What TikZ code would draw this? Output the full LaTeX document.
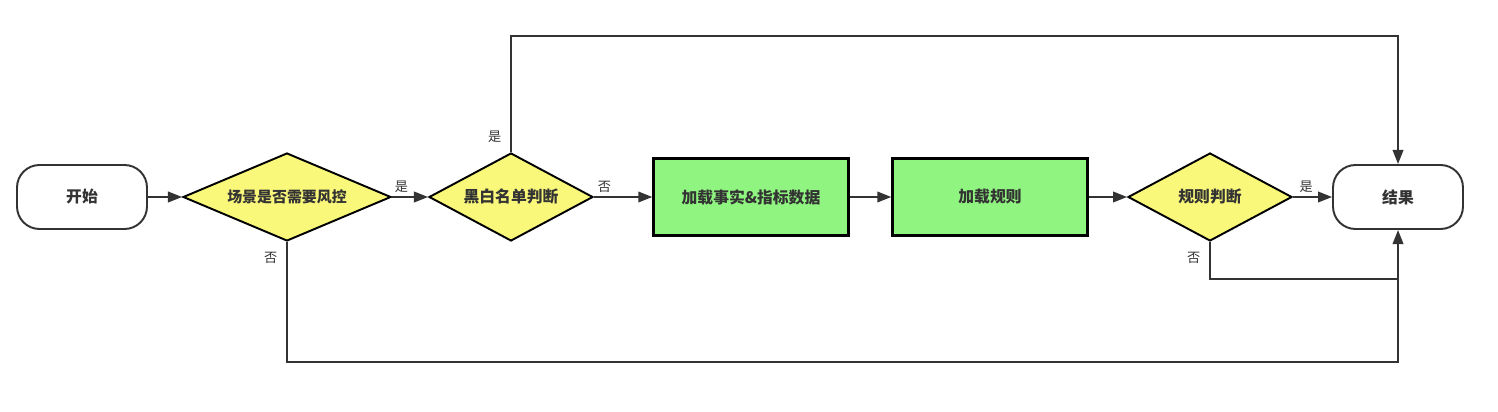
\documentclass[tikz,border=0pt]{standalone}
\usepackage{fontspec}
\setmainfont{Noto Sans CJK SC}
\usetikzlibrary{shapes.geometric,arrows.meta,positioning}
\definecolor{linegray}{HTML}{333333}
\definecolor{decyellow}{RGB}{250,248,122}
\definecolor{stepgreen}{RGB}{144,245,128}

\tikzset{
	terminal/.style={rectangle,rounded corners=0.45cm,draw=linegray,line width=1.1pt,fill=white,
		minimum width=2.6cm,minimum height=1.28cm,font=\fontsize{9}{11}\selectfont\bfseries,text=linegray},
	decision/.style={diamond,aspect=1.86,draw=black,line width=1.1pt,fill=decyellow,inner sep=0pt,
		minimum width=3.28cm,minimum height=1.76cm,font=\fontsize{9}{11}\selectfont\bfseries,text=linegray},
	process/.style={rectangle,draw=black,line width=1.3pt,fill=stepgreen,
		minimum width=3.9cm,minimum height=1.54cm,font=\fontsize{9}{11}\selectfont\bfseries,text=linegray},
	arr/.style={draw=linegray,line width=1.1pt,-{Triangle[length=8pt,width=6pt]}},
	conn/.style={draw=linegray,line width=1.1pt},
	lbl/.style={font=\fontsize{7.5}{9}\selectfont,text=linegray,inner sep=2pt}
}

\begin{document}
\begin{tikzpicture}[x=0.02cm,y=-0.02cm]
	\useasboundingbox (0,0) rectangle (1498,412);

	\node[terminal] (start) at (82,197){开始};
	\node[decision,aspect=2.36,minimum width=4.16cm,font=\fontsize{8.5}{10}\selectfont\bfseries] (scene) at (287,197){场景是否需要风控};
	\node[decision] (list) at (511,197){黑白名单判断};
	\node[process] (load) at (751,197){加载事实\&指标数据};
	\node[process] (rules) at (990,197){加载规则};
	\node[decision] (judge) at (1210,197){规则判断};
	\node[terminal] (result) at (1398,197){结果};

	\coordinate (topr) at (1398,36);
	\coordinate (midr) at (1398,279);
	\coordinate (botr) at (1398,362);

	\draw[arr] (start) -- (scene);
	\draw[arr] (scene) -- node[lbl,pos=0.26,above]{是} (list);
	\draw[arr] (list) -- node[lbl,pos=0.18,above]{否} (load);
	\draw[arr] (load) -- (rules);
	\draw[arr] (rules) -- (judge);
	\draw[arr] (judge) -- node[lbl,pos=0.34,above]{是} (result);

	\draw[arr] (list.north) -- node[lbl,pos=0.13,left=3pt]{是} (list.north |- topr) -- (topr) -- (result.north);
	\draw[arr] (scene.south) -- node[lbl,pos=0.13,left=3pt]{否} (scene.south |- botr) -- (botr) -- (result.south);
	\draw[conn] (judge.south) -- node[lbl,pos=0.42,left=3pt]{否} (judge.south |- midr) -- (midr);
\end{tikzpicture}
\end{document}
